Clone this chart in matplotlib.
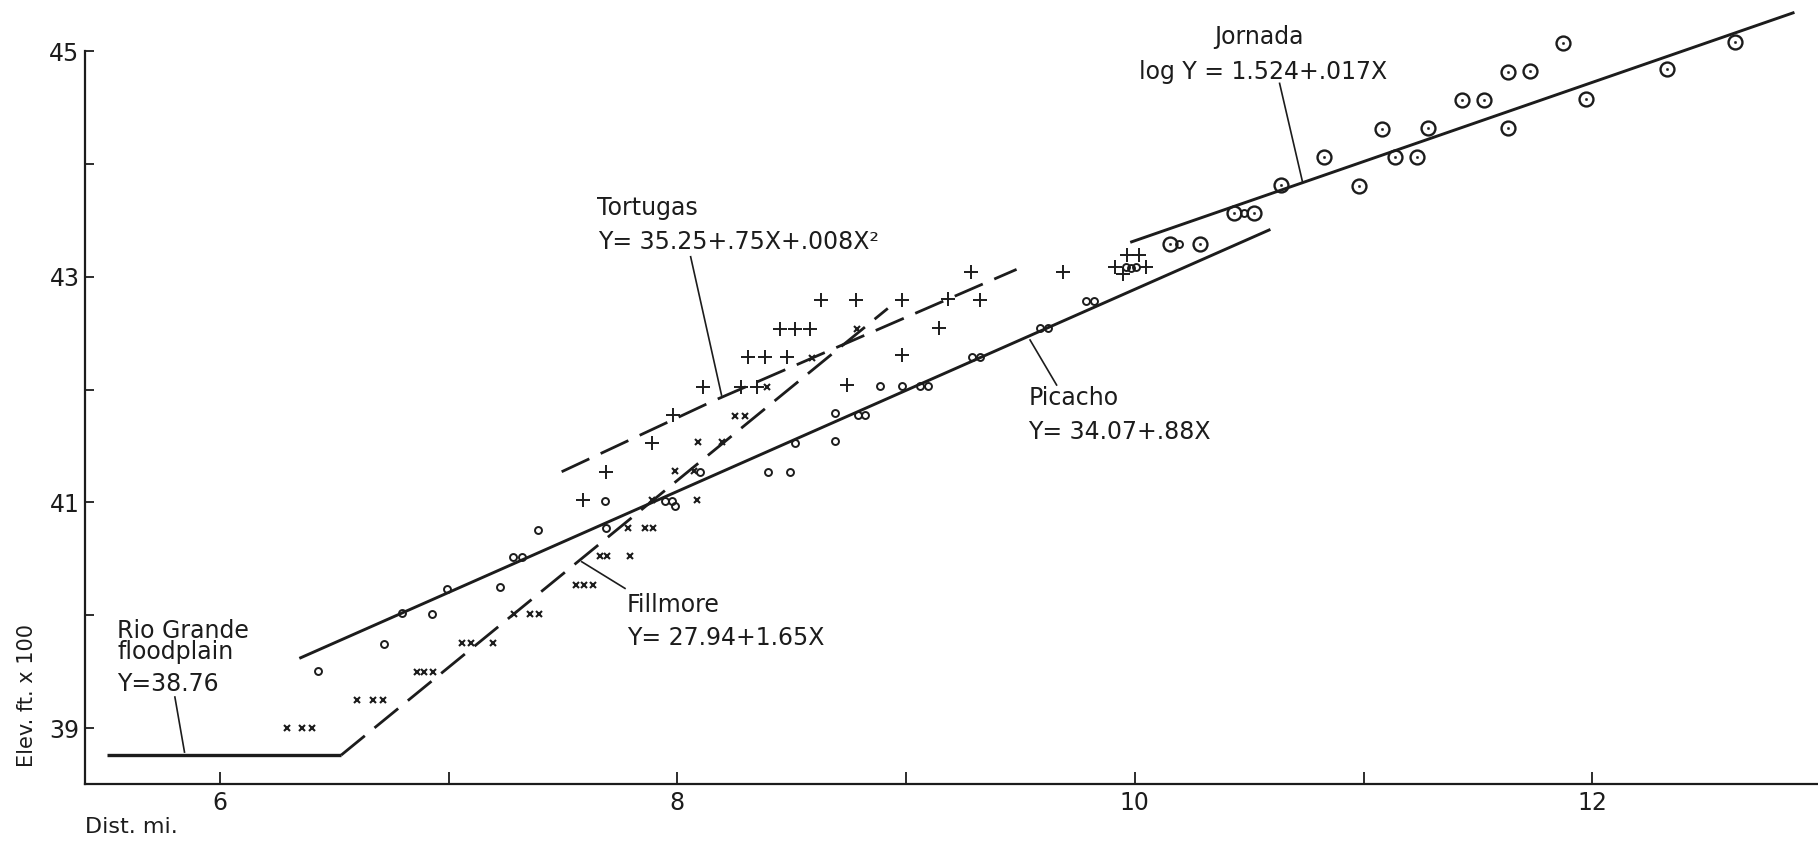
import matplotlib
matplotlib.use("Agg")
import matplotlib.pyplot as plt
from matplotlib.ticker import FixedLocator, NullFormatter

plt.rcParams['font.family'] = ['DejaVu Sans']

# ---------------- data ----------------
picacho_x = [6.427, 6.718, 6.794, 6.926, 6.991, 7.224, 7.282, 7.319, 7.392, 7.688,
             7.683, 7.946, 7.975, 7.990, 8.099, 8.397, 8.492, 8.514, 8.689, 8.689,
             8.791, 8.822, 8.886, 8.984, 9.061, 9.094, 9.290, 9.323, 9.585, 9.622,
             9.787, 9.822, 9.961, 9.983, 10.005, 10.195, 10.477]
picacho_y = [39.505, 39.745, 40.017, 40.008, 40.230, 40.247, 40.513, 40.513, 40.755, 40.770,
             41.015, 41.015, 41.015, 40.968, 41.270, 41.272, 41.272, 41.531, 41.542, 41.790,
             41.775, 41.775, 42.032, 42.032, 42.036, 42.036, 42.292, 42.292, 42.543, 42.543,
             42.788, 42.788, 43.090, 43.075, 43.090, 43.295, 43.563]

fillmore_x = [6.294, 6.357, 6.401, 6.600, 6.668, 6.711, 6.860, 6.893, 6.930,
              7.057, 7.096, 7.192, 7.287, 7.355, 7.396, 7.557, 7.592, 7.632,
              7.662, 7.691, 7.793, 7.785, 7.858, 7.895, 7.888, 8.084, 7.990, 8.073,
              8.091, 8.195, 8.252, 8.296, 8.394, 8.587, 8.784]
fillmore_y = [38.997, 38.997, 38.997, 39.248, 39.248, 39.248, 39.499, 39.499, 39.499,
              39.751, 39.751, 39.751, 40.008, 40.008, 40.008, 40.268, 40.268, 40.268,
              40.525, 40.525, 40.525, 40.770, 40.770, 40.770, 41.026, 41.026, 41.283, 41.283,
              41.533, 41.533, 41.769, 41.769, 42.026, 42.278, 42.535]

tortugas_x = [7.586, 7.688, 7.888, 7.979, 8.110, 8.278, 8.350, 8.310, 8.383, 8.478,
              8.449, 8.514, 8.580, 8.626, 8.781, 8.981, 9.184, 9.323, 9.284, 8.981,
              9.145, 8.740, 9.687, 9.965, 10.020, 9.913, 10.049, 9.947]
tortugas_y = [41.021, 41.272, 41.524, 41.775, 42.026, 42.026, 42.026, 42.286, 42.286, 42.286,
              42.535, 42.535, 42.535, 42.794, 42.794, 42.794, 42.799, 42.794, 43.045, 42.307,
              42.543, 42.041, 43.045, 43.193, 43.193, 43.090, 43.090, 43.025]

jornada_x = [10.154, 10.285, 10.434, 10.523, 10.637, 10.825, 10.980, 11.080, 11.138, 11.233,
             11.281, 11.431, 11.527, 11.633, 11.633, 11.729, 11.874, 11.973, 12.328, 12.624]
jornada_y = [43.295, 43.295, 43.568, 43.568, 43.814, 44.059, 43.808, 44.310, 44.062, 44.062,
             44.319, 44.570, 44.570, 44.317, 44.820, 44.824, 45.075, 44.574, 44.840, 45.084]

# fitted lines (end points)
flood_line_x = [5.506, 6.53]
flood_line_y = [38.76, 38.76]
fill_line_x = [6.53, 8.92]
fill_line_y = [38.76, 42.72]
tort_line_x = [7.494, 8.157, 9.483]
tort_line_y = [41.272, 41.900, 43.066]
pica_line_x = [6.353, 10.587]
pica_line_y = [39.623, 43.415]
jorn_line_x = [9.986, 12.878]
jorn_line_y = [43.31, 45.34]

x_major = [6, 8, 10, 12]
x_minor = [7, 9, 11]
y_major = [39, 41, 43, 45]
y_minor = [40, 42, 44]

# ---------------- figure ----------------
INK = '#1c1c1c'
fig = plt.figure(figsize=(18.18, 8.41), dpi=100)
ax = fig.add_axes([0.04675, 0.06778, 0.95325, 0.93222])
ax.set_xlim(5.41, 12.987)
ax.set_ylim(38.504, 45.454)

for s in ['top', 'right']:
    ax.spines[s].set_visible(False)
for s in ['left', 'bottom']:
    ax.spines[s].set_linewidth(1.6)
    ax.spines[s].set_color(INK)
ax.spines['left'].set_bounds(38.504, 45)

ax.xaxis.set_major_locator(FixedLocator(x_major))
ax.xaxis.set_minor_locator(FixedLocator(x_minor))
ax.yaxis.set_major_locator(FixedLocator(y_major))
ax.yaxis.set_minor_locator(FixedLocator(y_minor))
ax.xaxis.set_minor_formatter(NullFormatter())
ax.yaxis.set_minor_formatter(NullFormatter())
ax.set_xticklabels([str(v) for v in x_major])
ax.set_yticklabels([str(v) for v in y_major])
ax.tick_params(axis='x', which='both', direction='in', length=8.5, width=1.3,
               colors=INK, labelsize=17, pad=5)
ax.tick_params(axis='y', which='both', direction='in', length=6.5, width=1.3,
               colors=INK, labelsize=17, pad=4)

# lines
ax.plot(flood_line_x, flood_line_y, color=INK, lw=2.4, solid_capstyle='butt')
ax.plot(fill_line_x, fill_line_y, color=INK, lw=2.0, dashes=(11, 4.5))
ax.plot(tort_line_x, tort_line_y, color=INK, lw=2.0, dashes=(11, 4.5))
ax.plot(pica_line_x, pica_line_y, color=INK, lw=2.1)
ax.plot(jorn_line_x, jorn_line_y, color=INK, lw=2.1, clip_on=False)

# points
ax.plot(picacho_x, picacho_y, ls='none', marker='o', ms=5, mfc='none', mec=INK, mew=1.4)
ax.plot(fillmore_x, fillmore_y, ls='none', marker='x', ms=5, mec=INK, mew=1.5)
ax.plot(tortugas_x, tortugas_y, ls='none', marker='+', ms=10, mec=INK, mew=1.4)
ax.plot(jornada_x, jornada_y, ls='none', marker='o', ms=10, mfc='none', mec=INK, mew=1.7,
        clip_on=False)
ax.plot(jornada_x, jornada_y, ls='none', marker='o', ms=1.6, mfc=INK, mec=INK, mew=0.4,
        clip_on=False)

# leader lines
leaders = [
    ([5.803, 5.845], [39.275, 38.787]),
    ([7.582, 7.771], [40.474, 40.238]),
    ([8.058, 8.193], [43.178, 41.952]),
    ([9.542, 9.658], [42.440, 42.041]),
    ([10.633, 10.733], [44.715, 43.843]),
]
for lx, ly in leaders:
    ax.plot(lx, ly, color=INK, lw=1.2)

# annotations
fs = 17
def lab(x, y, s, **kw):
    ax.text(x, y, s, fontsize=fs, color=INK, va='center', ha='left', **kw)

lab(5.550, 39.860, 'Rio Grande')
lab(5.550, 39.674, 'floodplain')
lab(5.550, 39.390, 'Y=38.76')
lab(7.780, 40.090, 'Fillmore')
lab(7.780, 39.798, 'Y= 27.94+1.65X')
lab(7.648, 43.607, 'Tortugas')
lab(7.653, 43.311, 'Y= 35.25+.75X+.008X²')
lab(9.534, 41.923, 'Picacho')
lab(9.533, 41.621, 'Y= 34.07+.88X')
lab(10.346, 45.129, 'Jornada')
lab(10.018, 44.818, 'log Y = 1.524+.017X')

fig.text(0.0149, 0.1736, 'Elev. ft. x 100', rotation=90, fontsize=15, color=INK,
         ha='center', va='center')
fig.text(0.0468, 0.0166, 'Dist. mi.', fontsize=16, color=INK, ha='left', va='center')

fig.savefig('out.png', dpi=100, facecolor='white')
